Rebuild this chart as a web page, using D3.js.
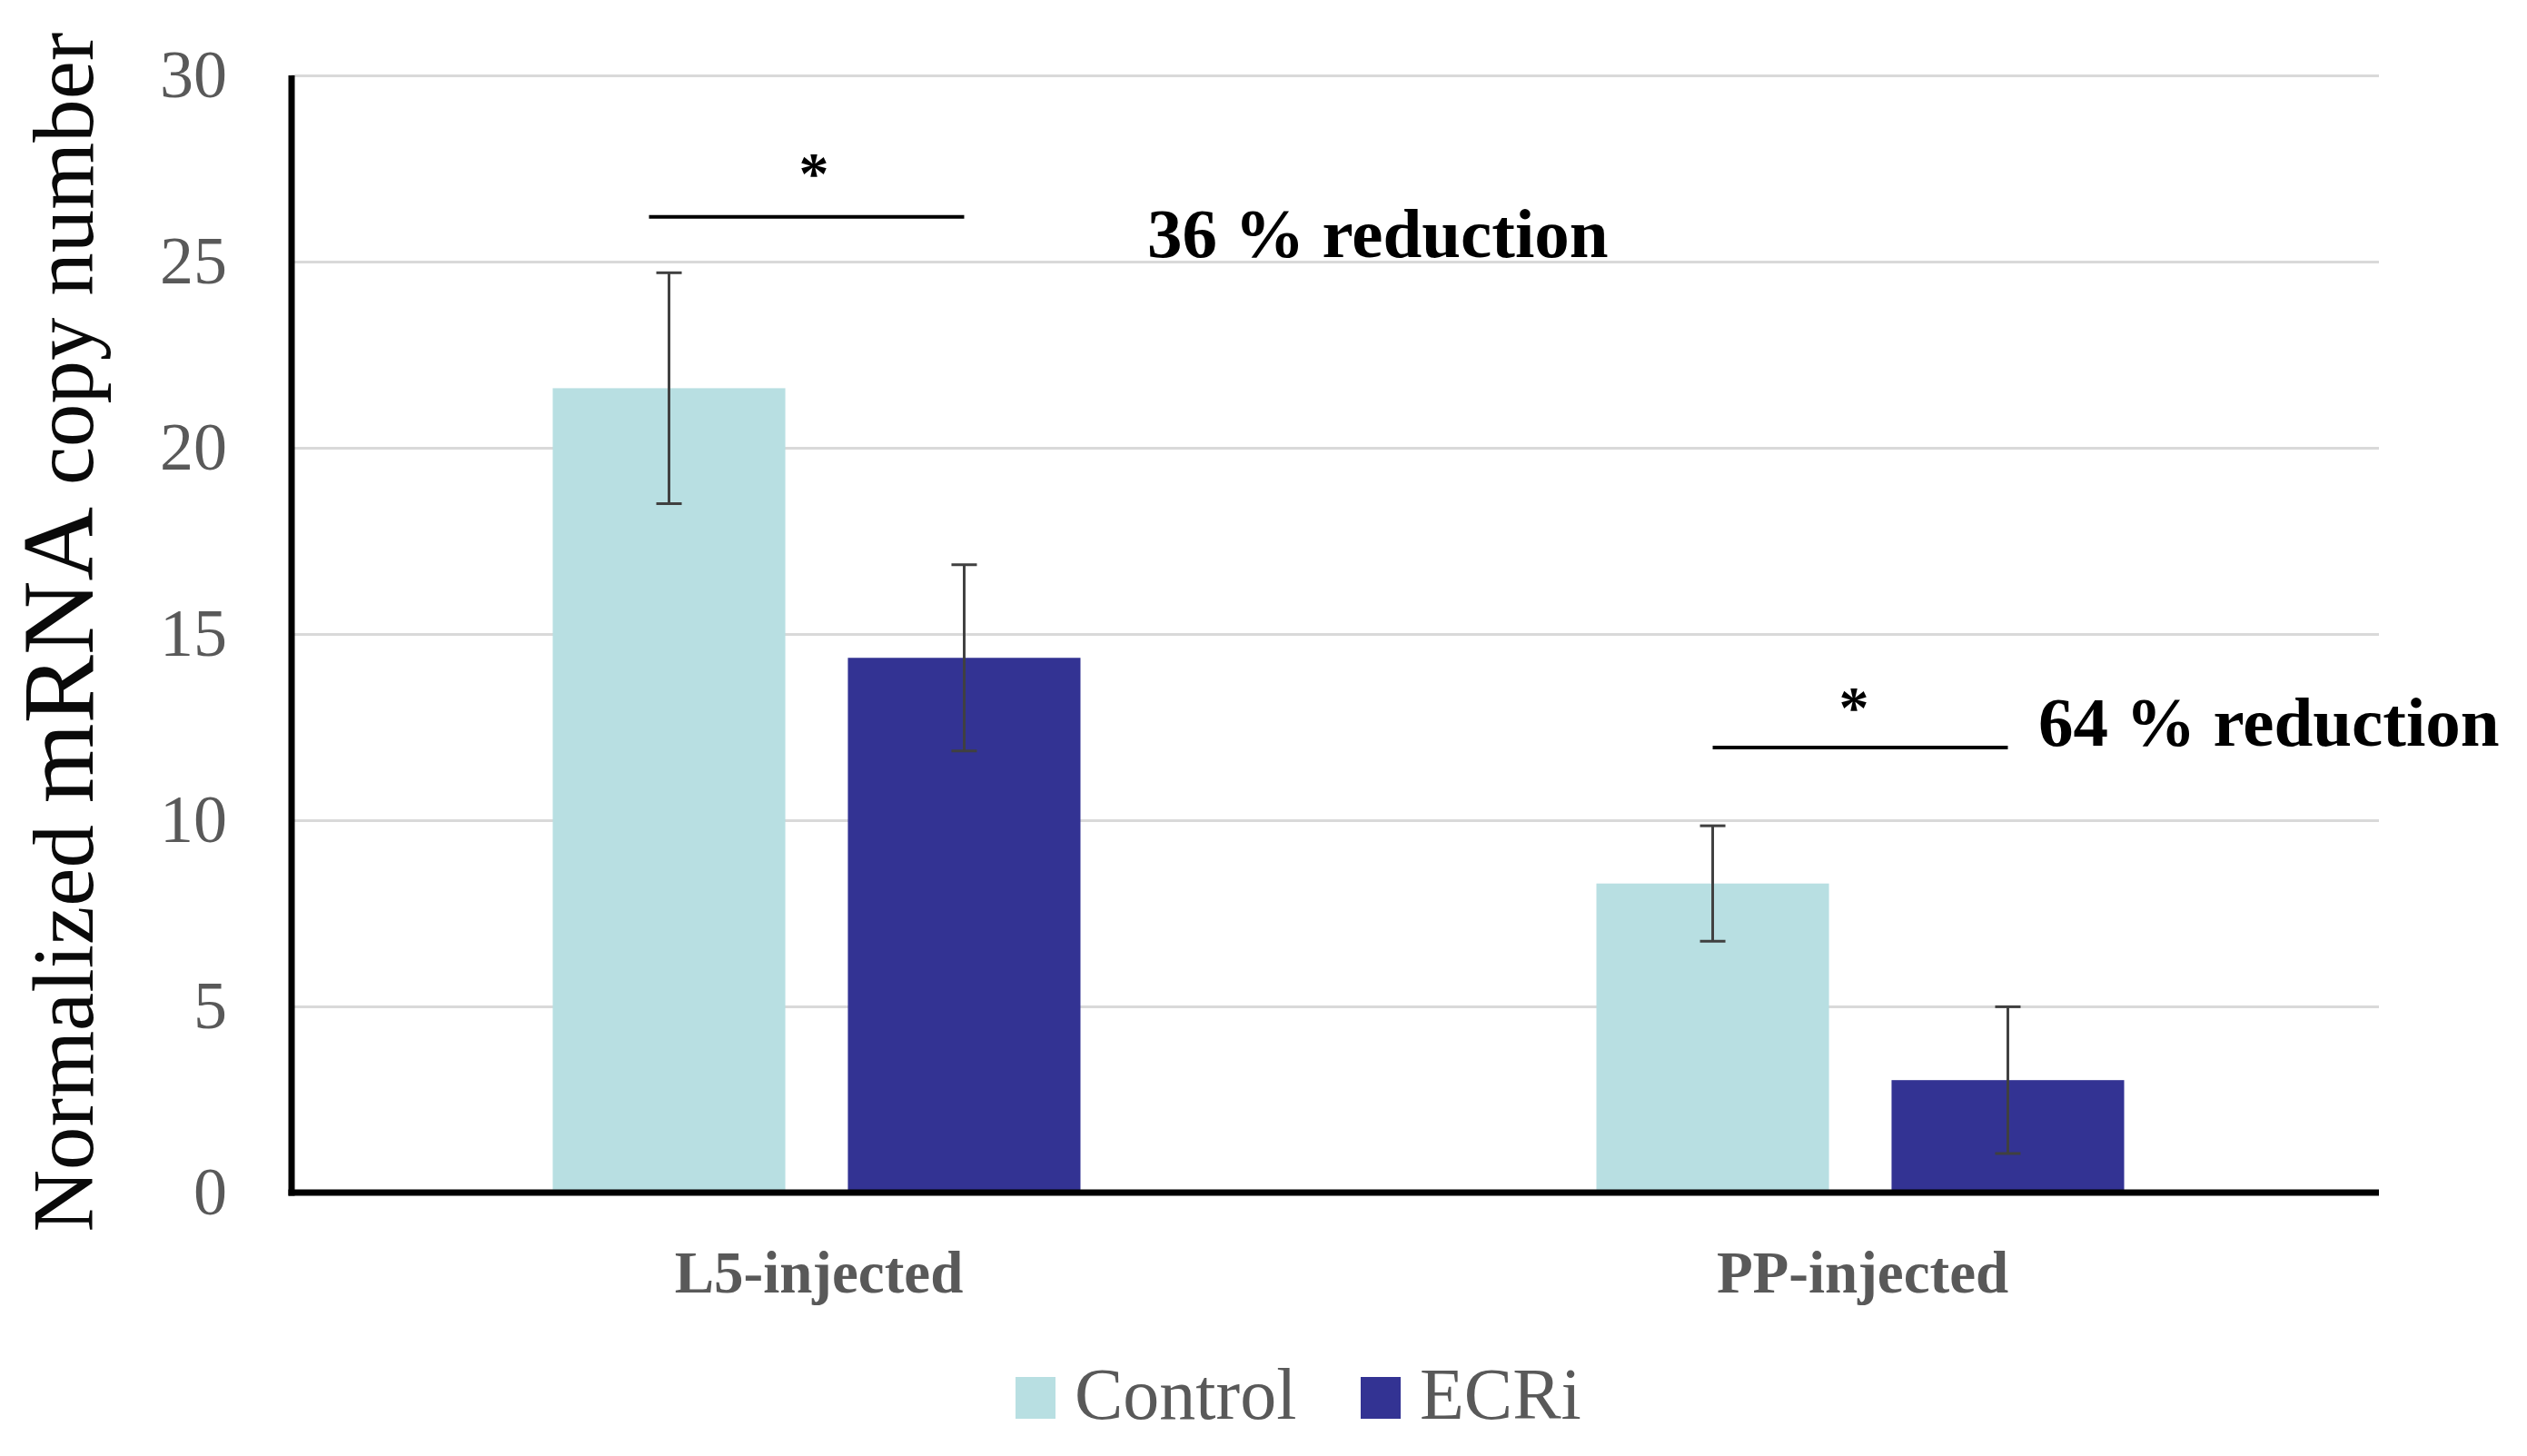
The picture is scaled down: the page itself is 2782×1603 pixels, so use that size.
<!DOCTYPE html>
<html>
<head>
<meta charset="utf-8">
<script src="https://cdn.jsdelivr.net/npm/d3@7"></script>
<style>
  body { margin: 0; background: #ffffff; }
  svg { display: block; }
</style>
</head>
<body>
<div id="cnt"></div>
<script>
// datos
let categorias = ["L5-injected", "PP-injected"];
let series = ["Control", "ECRi"];
let valoresControl = [21.6, 8.3];
let valoresECRi = [14.36, 3.02];
let errorControl = [3.1, 1.55];
let errorECRi = [2.5, 1.97];
let ticksY = [0, 5, 10, 15, 20, 25, 30];
let textoReduccion = ["36 % reduction", "64 % reduction"];
let nivelReduccion = [26.2, 11.95];

let colores = { "Control": "#b8dfe2", "ECRi": "#333393" };

let ancho = 2782;
let largo = 1603;

let izq = 321, der = 2619, arriba = 83, abajo = 1313;

//Crea SVG
let svg = d3.select('#cnt')
    .append("svg")
    .attr('width', ancho)
    .attr('height', largo)

let x0 = d3.scaleBand()
    .domain(categorias)
    .range([izq, der])
    .padding(0)

// barras dentro de cada grupo
let x1 = d3.scaleBand()
    .domain(series)
    .range([-287, 294])
    .paddingInner(0.212)
    .paddingOuter(0)

let y = d3.scaleLinear()
    .domain([0, 30])
    .range([abajo, arriba])

//Lineas de fondo y etiquetas eje Y
let ejeY = svg.append("g")
    .attr("transform", "translate(" + izq + ",0)")
    .call(d3.axisLeft(y).tickValues(ticksY).tickSize(-(der - izq)).tickPadding(71))

ejeY.select(".domain").remove()
ejeY.selectAll(".tick line")
    .attr("stroke", "#d9d9d9")
    .attr("stroke-width", 3)
ejeY.selectAll(".tick text")
    .style("font-family", "'Liberation Serif', serif")
    .style("font-size", "74px")
    .attr("fill", "#595959")

//Tabla de barras
let filas = [];
categorias.forEach(function (c, i) {
    filas.push({ cat: c, serie: "Control", v: valoresControl[i], e: errorControl[i] });
    filas.push({ cat: c, serie: "ECRi", v: valoresECRi[i], e: errorECRi[i] });
});

let centro = function (d) {
    return x0(d.cat) + x0.bandwidth() / 2 + x1(d.serie) + x1.bandwidth() / 2;
};

svg.append("g").selectAll("rect")
    .data(filas).enter()
    .append("rect")
    .attr("x", function (d) { return x0(d.cat) + x0.bandwidth() / 2 + x1(d.serie); })
    .attr("y", function (d) { return y(d.v); })
    .attr("width", x1.bandwidth())
    .attr("height", function (d) { return y(0) - y(d.v); })
    .attr("fill", function (d) { return colores[d.serie]; })

//Barras de error
let err = svg.append("g")
    .attr("stroke", "#404040")
    .attr("stroke-width", 3)
    .selectAll("g")
    .data(filas).enter()
    .append("g")

err.append("line")
    .attr("x1", centro).attr("x2", centro)
    .attr("y1", function (d) { return y(d.v + d.e); })
    .attr("y2", function (d) { return y(d.v - d.e); })
err.append("line")
    .attr("x1", function (d) { return centro(d) - 14; })
    .attr("x2", function (d) { return centro(d) + 14; })
    .attr("y1", function (d) { return y(d.v + d.e); })
    .attr("y2", function (d) { return y(d.v + d.e); })
err.append("line")
    .attr("x1", function (d) { return centro(d) - 14; })
    .attr("x2", function (d) { return centro(d) + 14; })
    .attr("y1", function (d) { return y(d.v - d.e); })
    .attr("y2", function (d) { return y(d.v - d.e); })

//Ejes negros
svg.append("line")
    .attr("x1", izq).attr("x2", izq)
    .attr("y1", y(30)).attr("y2", y(0) + 3.5)
    .attr("stroke", "#000").attr("stroke-width", 7)
svg.append("line")
    .attr("x1", izq - 3.5).attr("x2", der)
    .attr("y1", y(0)).attr("y2", y(0))
    .attr("stroke", "#000").attr("stroke-width", 7)

//Etiquetas eje X
let ejeX = svg.append("g")
    .attr("transform", "translate(0," + abajo + ")")
    .call(d3.axisBottom(x0).tickSize(0))
ejeX.select(".domain").remove()
ejeX.selectAll(".tick text")
    .attr("y", 110)
    .attr("dy", 0)
    .attr("x", 6)
    .style("font-family", "'Liberation Serif', serif")
    .style("font-size", "65px")
    .style("font-weight", "bold")
    .attr("fill", "#595959")

//Titulo eje Y
let titulo = svg.append("text")
    .attr("transform", "translate(102,696) rotate(-90)")
    .attr("text-anchor", "middle")
    .style("font-family", "'Liberation Serif', serif")
    .attr("fill", "#0a0a0a")
titulo.append("tspan").style("font-size", "95px").text("Normalized ")
titulo.append("tspan").style("font-size", "113px").text("mRNA")
titulo.append("tspan").style("font-size", "95px").text(" copy number")

//Anotaciones de significancia
let c1 = x0(categorias[0]) + x0.bandwidth() / 2;
let c2 = x0(categorias[1]) + x0.bandwidth() / 2;
let cEcri1 = c1 + x1("ECRi") + x1.bandwidth() / 2;
let cCtrl2 = c2 + x1("Control") + x1.bandwidth() / 2;
let cEcri2 = c2 + x1("ECRi") + x1.bandwidth() / 2;

let anot = [
    { x1: c1 - 181, x2: cEcri1, nivel: nivelReduccion[0], tx: 1263, ty: y(nivelReduccion[0]) + 44, texto: textoReduccion[0], sx: 8, sy: y(nivelReduccion[0]) - 26 },
    { x1: cCtrl2, x2: cEcri2, nivel: nivelReduccion[1], tx: 2244, ty: y(nivelReduccion[1]) - 2, texto: textoReduccion[1], sx: -7, sy: y(nivelReduccion[1]) - 22 }
];

anot.forEach(function (a) {
    svg.append("line")
        .attr("x1", a.x1).attr("x2", a.x2)
        .attr("y1", y(a.nivel)).attr("y2", y(a.nivel))
        .attr("stroke", "#000").attr("stroke-width", 4)
    svg.append("text")
        .attr("x", (a.x1 + a.x2) / 2 + a.sx)
        .attr("y", a.sy)
        .attr("text-anchor", "middle")
        .style("font-family", "'Liberation Serif', serif")
        .style("font-size", "66px")
        .style("font-weight", "bold")
        .text("*")
    svg.append("text")
        .attr("x", a.tx)
        .attr("y", a.ty)
        .style("font-family", "'Liberation Serif', serif")
        .style("font-size", "77px")
        .style("font-weight", "bold")
        .attr("fill", "#000")
        .text(a.texto)
})

//Leyenda
let leyX = [1118, 1498];
let ley = svg.append("g").selectAll("g")
    .data(series).enter()
    .append("g")
    .attr("transform", function (d, i) { return "translate(" + leyX[i] + ",1516)"; })
ley.append("rect")
    .attr("width", 44).attr("height", 46)
    .attr("fill", function (d) { return colores[d]; })
ley.append("text")
    .attr("x", 65)
    .attr("y", 46)
    .style("font-family", "'Liberation Serif', serif")
    .style("font-size", "80px")
    .attr("fill", "#595959")
    .text(function (d) { return d; })
</script>
</body>
</html>
